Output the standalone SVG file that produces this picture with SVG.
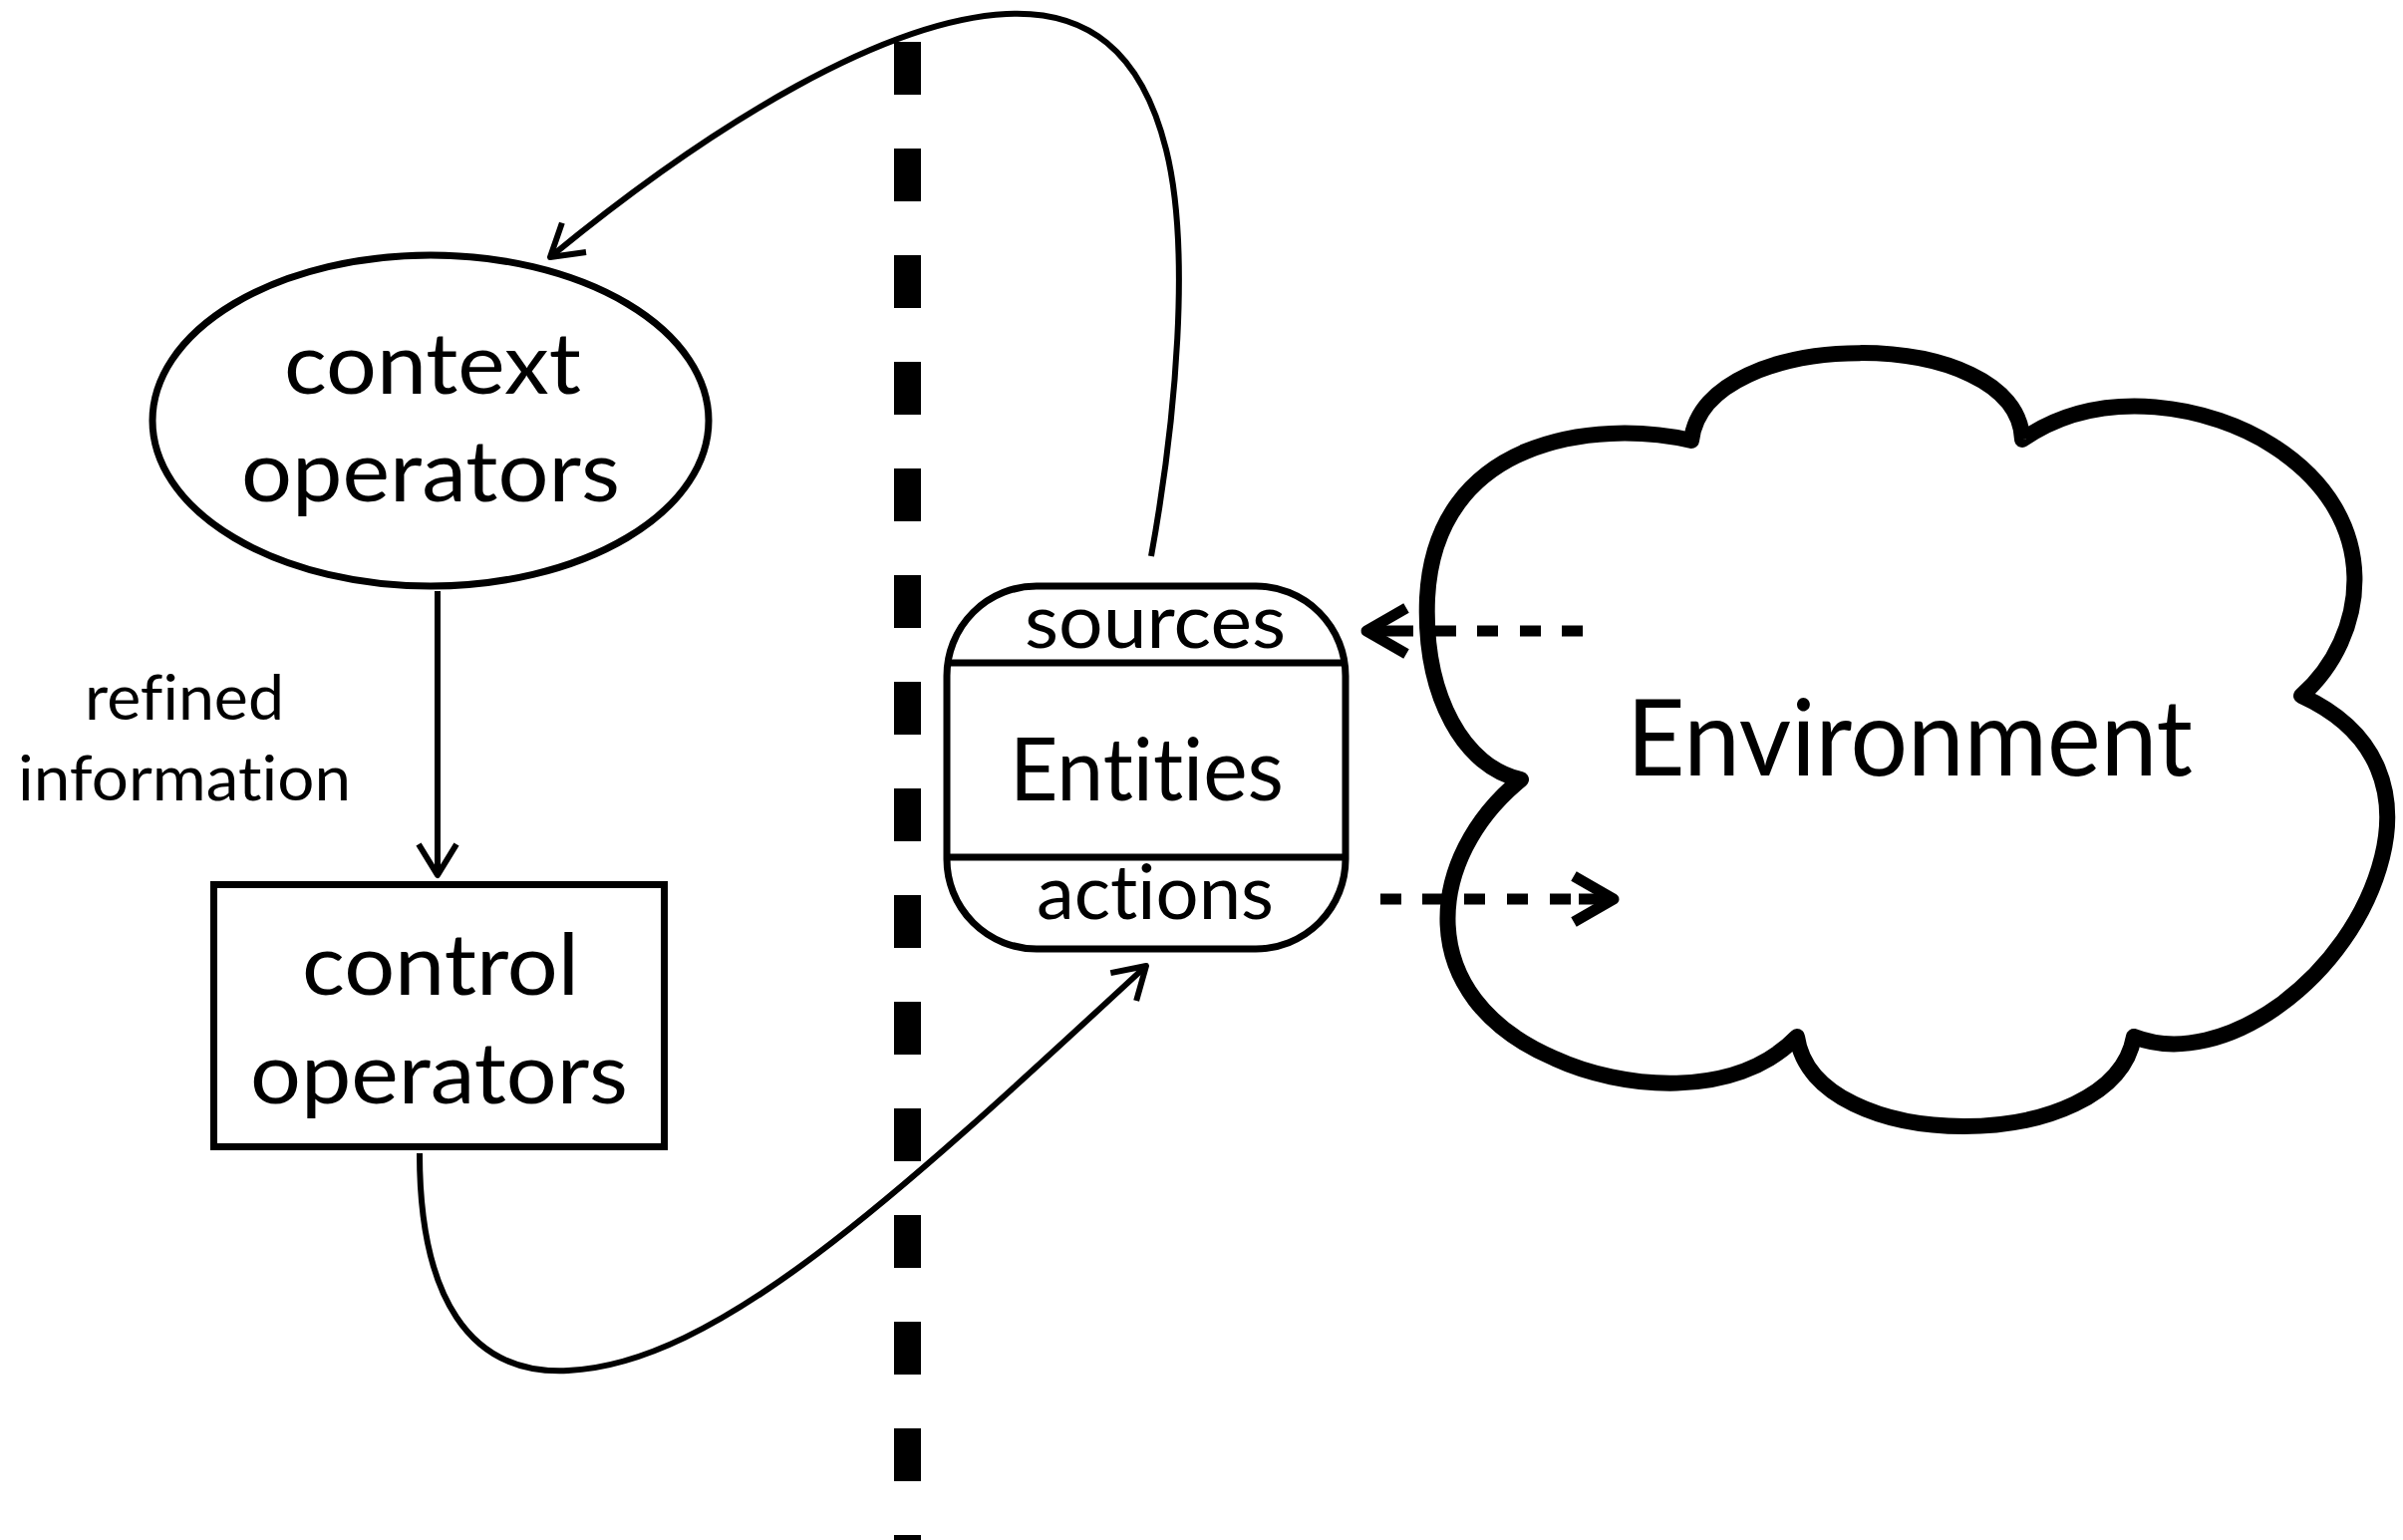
<svg xmlns="http://www.w3.org/2000/svg" width="2411" height="1545" viewBox="0 0 2411 1545">
<style>
  text { font-family: Lato, "Liberation Sans", "DejaVu Sans", sans-serif; fill: #000; text-anchor: middle; font-variant-ligatures: none; font-feature-settings: "liga" 0, "clig" 0; }
  .node { fill: #fff; stroke: #000; }
  .conn { fill: none; stroke: #000; stroke-width: 6; }
  .dash { fill: none; stroke: #000; stroke-width: 11; }
</style>
<defs>
  <marker id="thin" markerUnits="userSpaceOnUse" viewBox="-40 -25 50 50" markerWidth="50" markerHeight="50" refX="0" refY="0" orient="auto" overflow="visible">
    <path d="M-31 -19 L0 0 L-31 19" fill="none" stroke="#000" stroke-width="6" stroke-linejoin="round"/>
  </marker>
  <marker id="thick" markerUnits="userSpaceOnUse" viewBox="-50 -30 60 60" markerWidth="60" markerHeight="60" refX="0" refY="0" orient="auto" overflow="visible">
    <path d="M-40 -23 L0 0 L-40 23" fill="none" stroke="#000" stroke-width="11" stroke-linejoin="round"/>
  </marker>
</defs>
<rect width="2411" height="1545" fill="#fff"/>

<g id="boundary">
  <line x1="910.5" y1="42" x2="910.5" y2="1545" stroke="#000" stroke-width="27" stroke-dasharray="53 54"/>
</g>

<g id="environment">
  <path class="node" stroke-width="16" stroke-linejoin="round" d="M1697 442 C1600 420 1440 440 1432 600 C1428 700 1470 770 1526 782 C1430 860 1415 1000 1560 1062 C1625 1092 1740 1105 1803 1040 C1820 1160 2120 1160 2141 1040 C2230 1075 2360 980 2390 860 C2405 800 2390 735 2309 698 C2375 640 2395 520 2280 447 C2220 408 2110 385 2029 441 C2025 325 1710 325 1697 442 Z"/>
  <text x="1916" y="778" font-size="106" textLength="568" lengthAdjust="spacingAndGlyphs">Environment</text>
</g>

<g id="context-operators">
  <ellipse class="node" cx="432" cy="422" rx="279" ry="166" stroke-width="7"/>
  <text x="434" y="395" font-size="86" textLength="298" lengthAdjust="spacingAndGlyphs">context</text>
  <text x="432" y="503" font-size="86" textLength="380" lengthAdjust="spacingAndGlyphs">operators</text>
</g>

<g id="control-operators">
  <rect class="node" x="214.5" y="887.5" width="452" height="263" stroke-width="7"/>
  <text x="442" y="998" font-size="86" textLength="278" lengthAdjust="spacingAndGlyphs">control</text>
  <text x="440.5" y="1107" font-size="86" textLength="379" lengthAdjust="spacingAndGlyphs">operators</text>
</g>

<g id="entities">
  <rect class="node" x="950" y="588" width="400" height="364" rx="90" ry="90" stroke-width="7"/>
  <line x1="951" y1="665" x2="1349" y2="665" stroke="#000" stroke-width="7"/>
  <line x1="951" y1="860" x2="1349" y2="860" stroke="#000" stroke-width="7"/>
  <text x="1159" y="650" font-size="76" textLength="262" lengthAdjust="spacingAndGlyphs">sources</text>
  <text x="1150.5" y="803" font-size="87" textLength="275" lengthAdjust="spacingAndGlyphs">Entities</text>
  <text x="1159" y="922" font-size="76" textLength="238" lengthAdjust="spacingAndGlyphs">actions</text>
</g>

<g id="refined-information-label">
  <text x="185" y="722" font-size="62" textLength="200" lengthAdjust="spacingAndGlyphs">refined</text>
  <text x="185" y="803" font-size="62" textLength="334" lengthAdjust="spacingAndGlyphs">information</text>
</g>

<g id="connectors">
  <path class="conn" d="M439 593 L439 878" marker-end="url(#thin)"/>
  <path class="conn" d="M1155 558 C1180 420 1195 250 1170 150 C1145 50 1090 10 1010 14 C890 20 720 120 552 258" marker-end="url(#thin)"/>
  <path class="conn" d="M421 1157 C421 1300 470 1380 570 1375 C720 1368 900 1200 1150 969" marker-end="url(#thin)"/>
  <path class="dash" d="M1588 633 H1567 M1546 633 H1525 M1503 633 H1482 M1461 633 H1440"/>
  <path class="dash" d="M1418 633 L1371 633" marker-end="url(#thick)"/>
  <path class="dash" d="M1385 902 H1406 M1427 902 H1448 M1469 902 H1490 M1512 902 H1533 M1555 902 H1576"/>
  <path class="dash" d="M1584 902 L1619 902" marker-end="url(#thick)"/>
</g>
</svg>
